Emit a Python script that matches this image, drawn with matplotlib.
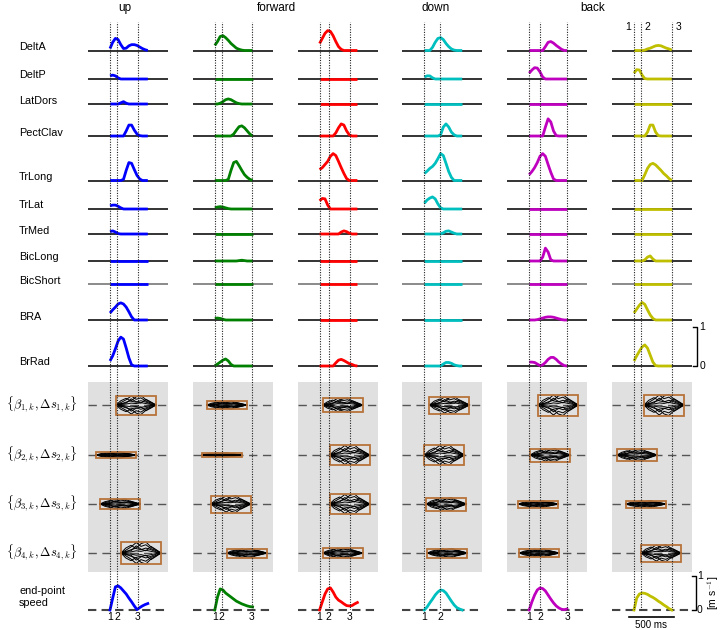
import numpy as np
import matplotlib
matplotlib.use("Agg")
import matplotlib.pyplot as plt
from matplotlib.patches import Rectangle
from matplotlib.transforms import blended_transform_factory

plt.rcParams['font.family'] = ['Liberation Sans', 'DejaVu Sans']
plt.rcParams['mathtext.fontset'] = 'cm'

# ---------------- data ----------------
directions = ['up', 'forward', 'down', 'back']
muscles = ['DeltA', 'DeltP', 'LatDors', 'PectClav', 'TrLong', 'TrLat',
           'TrMed', 'BicLong', 'BicShort', 'BRA', 'BrRad']
col_colors = [(0, 0, 1), (0, .5, 0), (1, 0, 0), (0, .75, .75), (.75, 0, .75), (.75, .75, 0)]

t_ms = [0, 30, 60, 90, 120, 150, 180, 210, 240, 270, 300, 330, 360, 390, 420]

# event times (ms from movement onset) for each column: 1, 2, 3
events = [[0, 78, 308], [0, 78, 411], [0, 100, 333], [0, 178], [0, 122, 422], [0, 78, 422]]

Z = [0] * 15
emg_up = {
    'DeltA':    [0.05, 0.21, 0.31, 0.28, 0.15, 0.05, 0.06, 0.12, 0.15, 0.15, 0.13, 0.09, 0.05, 0.02, 0.0],
    'DeltP':    [0.08, 0.10, 0.08, 0.03, 0, 0, 0, 0, 0, 0, 0, 0, 0, 0, 0],
    'LatDors':  [0, 0, 0, 0, 0.03, 0.06, 0.02, 0, 0, 0, 0, 0, 0, 0, 0],
    'PectClav': [0, 0, 0, 0, 0, 0, 0.13, 0.28, 0.28, 0.15, 0.05, 0.01, 0, 0, 0],
    'TrLong':   [0, 0, 0, 0, 0, 0.03, 0.26, 0.46, 0.44, 0.28, 0.13, 0.04, 0, 0, 0],
    'TrLat':    [0.08, 0.10, 0.10, 0.07, 0.03, 0, 0, 0, 0, 0, 0, 0, 0, 0, 0],
    'TrMed':    [0.06, 0.08, 0.05, 0.01, 0, 0, 0, 0, 0, 0, 0, 0, 0, 0, 0],
    'BicLong':  Z,
    'BicShort': Z,
    'BRA':      [0.18, 0.26, 0.33, 0.41, 0.44, 0.41, 0.33, 0.21, 0.08, 0, 0, 0, 0, 0, 0],
    'BrRad':    [0.13, 0.26, 0.44, 0.64, 0.74, 0.69, 0.46, 0.21, 0.03, 0, 0, 0, 0, 0, 0],
}
emg_forward = {
    'DeltA':    [0.13, 0.23, 0.36, 0.38, 0.33, 0.26, 0.18, 0.12, 0.06, 0.03, 0.01, 0, 0, 0, 0],
    'DeltP':    Z,
    'LatDors':  [0, 0, 0.02, 0.06, 0.11, 0.13, 0.11, 0.07, 0.03, 0.01, 0, 0, 0, 0, 0],
    'PectClav': [0, 0, 0, 0, 0, 0, 0, 0.05, 0.15, 0.24, 0.26, 0.21, 0.13, 0.05, 0],
    'TrLong':   [0, 0, 0, 0, 0, 0.03, 0.26, 0.46, 0.49, 0.38, 0.26, 0.15, 0.08, 0.03, 0],
    'TrLat':    [0.03, 0.05, 0.06, 0.05, 0.03, 0.01, 0, 0, 0, 0, 0, 0, 0, 0, 0],
    'TrMed':    Z,
    'BicLong':  [0, 0, 0, 0, 0, 0, 0, 0, 0, 0.01, 0.02, 0.01, 0, 0, 0],
    'BicShort': Z,
    'BRA':      [0.04, 0.05, 0.04, 0.02, 0, 0, 0, 0, 0, 0, 0, 0, 0, 0, 0],
    'BrRad':    [0.01, 0.05, 0.10, 0.15, 0.18, 0.13, 0.04, 0, 0, 0, 0, 0, 0, 0, 0],
}
emg_col3 = {
    'DeltA':    [0.18, 0.31, 0.44, 0.51, 0.49, 0.38, 0.23, 0.10, 0.03, 0, 0, 0, 0, 0, 0],
    'DeltP':    Z,
    'LatDors':  Z,
    'PectClav': [0, 0, 0, 0, 0, 0, 0.08, 0.21, 0.31, 0.28, 0.13, 0.03, 0, 0, 0],
    'TrLong':   [0.28, 0.33, 0.41, 0.49, 0.62, 0.69, 0.64, 0.49, 0.33, 0.18, 0.05, 0, 0, 0, 0],
    'TrLat':    [0.21, 0.27, 0.26, 0.10, 0, 0, 0, 0, 0, 0, 0, 0, 0, 0, 0],
    'TrMed':    [0, 0, 0, 0, 0, 0, 0, 0, 0.05, 0.08, 0.06, 0.02, 0, 0, 0],
    'BicLong':  Z,
    'BicShort': Z,
    'BRA':      Z,
    'BrRad':    [0, 0, 0, 0, 0, 0, 0.08, 0.15, 0.17, 0.14, 0.10, 0.06, 0.04, 0.01, 0],
}
emg_down = {
    'DeltA':    [0, 0, 0, 0.08, 0.21, 0.31, 0.33, 0.28, 0.18, 0.10, 0.04, 0.01, 0, 0, 0],
    'DeltP':    [0.05, 0.08, 0.08, 0.03, 0, 0, 0, 0, 0, 0, 0, 0, 0, 0, 0],
    'LatDors':  Z,
    'PectClav': [0, 0, 0, 0, 0, 0, 0.03, 0.23, 0.31, 0.23, 0.10, 0.03, 0, 0, 0],
    'TrLong':   [0.18, 0.24, 0.31, 0.36, 0.44, 0.56, 0.69, 0.64, 0.44, 0.23, 0.08, 0, 0, 0, 0],
    'TrLat':    [0.15, 0.23, 0.28, 0.31, 0.26, 0.13, 0.03, 0, 0, 0, 0, 0, 0, 0, 0],
    'TrMed':    [0, 0, 0, 0, 0, 0, 0, 0.03, 0.07, 0.08, 0.05, 0.02, 0, 0, 0],
    'BicLong':  Z,
    'BicShort': Z,
    'BRA':      Z,
    'BrRad':    [0, 0, 0, 0, 0, 0, 0, 0.05, 0.09, 0.09, 0.07, 0.03, 0.01, 0, 0],
}
emg_col5 = {
    'DeltA':    [0, 0, 0, 0, 0, 0, 0.10, 0.21, 0.23, 0.19, 0.13, 0.08, 0.03, 0, 0],
    'DeltP':    [0.15, 0.23, 0.29, 0.28, 0.18, 0.05, 0, 0, 0, 0, 0, 0, 0, 0, 0],
    'LatDors':  Z,
    'PectClav': [0, 0, 0, 0, 0, 0, 0.23, 0.44, 0.36, 0.13, 0.01, 0, 0, 0, 0],
    'TrLong':   [0.15, 0.23, 0.33, 0.46, 0.62, 0.69, 0.62, 0.41, 0.21, 0.04, 0, 0, 0, 0, 0],
    'TrLat':    Z,
    'TrMed':    Z,
    'BicLong':  [0, 0, 0, 0, 0, 0.10, 0.33, 0.23, 0.03, 0, 0, 0, 0, 0, 0],
    'BicShort': Z,
    'BRA':      [0, 0, 0, 0.01, 0.03, 0.05, 0.07, 0.08, 0.08, 0.07, 0.05, 0.03, 0.01, 0, 0],
    'BrRad':    [0.10, 0.10, 0.09, 0.05, 0.01, 0.03, 0.09, 0.17, 0.22, 0.22, 0.17, 0.10, 0.05, 0.01, 0],
}
emg_back = {
    'DeltA':    [0, 0, 0, 0, 0.01, 0.04, 0.06, 0.09, 0.12, 0.13, 0.12, 0.09, 0.06, 0.04, 0.01],
    'DeltP':    [0.15, 0.24, 0.23, 0.10, 0.01, 0, 0, 0, 0, 0, 0, 0, 0, 0, 0],
    'LatDors':  Z,
    'PectClav': [0, 0, 0, 0, 0, 0.10, 0.28, 0.28, 0.10, 0.01, 0, 0, 0, 0, 0],
    'TrLong':   [0, 0, 0, 0, 0.15, 0.31, 0.41, 0.44, 0.40, 0.33, 0.26, 0.18, 0.12, 0.05, 0],
    'TrLat':    Z,
    'TrMed':    Z,
    'BicLong':  [0, 0, 0, 0, 0.03, 0.10, 0.13, 0.05, 0, 0, 0, 0, 0, 0, 0],
    'BicShort': Z,
    'BRA':      [0.18, 0.28, 0.38, 0.45, 0.40, 0.26, 0.13, 0.04, 0, 0, 0, 0, 0, 0, 0],
    'BrRad':    [0.13, 0.26, 0.38, 0.49, 0.54, 0.46, 0.28, 0.10, 0.01, 0, 0, 0, 0, 0, 0],
}
emg = [emg_up, emg_forward, emg_col3, emg_down, emg_col5, emg_back]

# end-point speed (m/s)
speed = [
    [0, 0.35, 0.68, 0.71, 0.65, 0.56, 0.47, 0.35, 0.24, 0.12, 0.01, 0.07, 0.12, 0.16, 0.19],
    [0, 0.38, 0.62, 0.59, 0.50, 0.44, 0.38, 0.32, 0.26, 0.22, 0.18, 0.15, 0.12, 0.10, 0.09],
    [0, 0.24, 0.47, 0.62, 0.65, 0.53, 0.38, 0.29, 0.24, 0.18, 0.13, 0.12, 0.13, 0.18, 0.22],
    [0, 0.09, 0.21, 0.32, 0.44, 0.53, 0.59, 0.57, 0.50, 0.38, 0.26, 0.15, 0.07, 0.03, 0],
    [0, 0.24, 0.44, 0.59, 0.65, 0.63, 0.56, 0.44, 0.32, 0.21, 0.12, 0.06, 0.02, 0.01, 0.03],
    [0, 0.35, 0.47, 0.50, 0.49, 0.46, 0.41, 0.37, 0.32, 0.26, 0.21, 0.15, 0.10, 0.04, 0],
]

# synergy onset times (ms) and amplitudes (a.u.) per column, synergies 1..4
syn_onset = [[67, -156, -111, 122], [-89, -144, -44, 133], [33, 111, 111, 33],
             [56, 0, 22, 33], [100, 11, -122, -111], [111, -189, -89, 78]]
syn_amp = [[0.95, 0.3, 0.5, 1.1], [0.4, 0.22, 0.85, 0.45], [0.7, 1.0, 1.0, 0.5],
           [0.85, 1.0, 0.65, 0.45], [1.05, 0.65, 0.35, 0.4], [1.05, 0.6, 0.35, 0.85]]
syn_duration = 445
# normalised trial-by-trial waveform profiles drawn inside each box
prof_x = [0, 0.12, 0.25, 0.38, 0.5, 0.62, 0.75, 0.88, 1.0]
profiles = [
    [0, 0.25, 0.55, 0.95, 0.60, 0.75, 0.40, 0.20, 0],
    [0, 0.10, 0.30, 0.45, 0.85, 1.00, 0.55, 0.25, 0],
    [0, 0.45, 0.70, 0.40, 0.30, 0.45, 0.30, 0.10, 0],
    [0, 0.15, 0.20, 0.65, 0.35, 0.20, 0.60, 0.30, 0],
    [0, 0.05, 0.10, 0.20, 0.15, 0.25, 0.15, 0.05, 0],
]
syn_labels = [r'$\{\beta_{%d,k},\Delta s_{%d,k}\}$' % (i, i) for i in range(1, 5)]

# ---------------- layout (pixels) ----------------
W, H = 720, 630
fig = plt.figure(figsize=(W / 100, H / 100), dpi=100)


def rect(x0, y0, x1, y1):
    return [x0 / W, 1 - y1 / H, (x1 - x0) / W, (y1 - y0) / H]


MS_PER_PX = 500 / 45
col_left = [88 + 104.8 * i for i in range(6)]
col_w = 80
XLIM = (-22 * MS_PER_PX, 58 * MS_PER_PX)
base_y = [50.5, 79, 104, 136, 180.5, 209, 234, 261, 284.5, 320, 366]
EMG_PX = 39
SPD_PX = 34
SPD_BASE = 610
gray_top, gray_bot = 382, 572
syn_rows = [23, 73, 122, 171]
SYN_PX = 10
box_col = '#b8733a'
LW = 2.0

# titles
for name, xp in zip(directions, [125, 276, 436, 593]):
    fig.text(xp / W, 1 - 8 / H, name, ha='center', va='center', fontsize=8.5)

# muscle labels
for m, by in zip(muscles, base_y):
    fig.text(19 / W, 1 - (by - 3.5) / H, m, ha='left', va='center', fontsize=7.8)
fig.text(19 / W, 1 - 597 / H, 'end-point\nspeed', ha='left', va='center', fontsize=7.8, linespacing=1.3)
for lab, ry in zip(syn_labels, syn_rows):
    fig.text(77 / W, 1 - (gray_top + ry) / H, lab, ha='right', va='center', fontsize=9)


def clean(ax):
    for s in ax.spines.values():
        s.set_visible(False)
    ax.set_xticks([])
    ax.set_yticks([])


for c in range(6):
    L = col_left[c]
    R = L + col_w
    colr = col_colors[c]

    # EMG rows
    for m, by in zip(muscles, base_y):
        ax = fig.add_axes(rect(L, by - 36, R, by + 4))
        ax.set_xlim(XLIM)
        ax.set_ylim(-4 / EMG_PX, 36 / EMG_PX)
        ax.patch.set_alpha(0)
        clean(ax)
        ax.axhline(0, color='#777777' if m == 'BicShort' else '#111111', lw=1.2, zorder=1)
        vals = emg[c][m]
        ax.plot(t_ms[:len(vals)], vals, color=colr, lw=LW, zorder=3,
                solid_joinstyle='round', solid_capstyle='butt', clip_on=False)
        if c == 5 and m == 'BrRad':
            tr = blended_transform_factory(ax.transAxes, ax.transData)
            ax.plot([1.015, 1.065, 1.065, 1.015], [1, 1, 0, 0], transform=tr,
                    color='k', lw=1.0, clip_on=False)
            ax.text(1.13, 1, '1', transform=tr, ha='center', va='center', fontsize=7.5)
            ax.text(1.13, 0, '0', transform=tr, ha='center', va='center', fontsize=7.5)

    # synergy panel
    sx = fig.add_axes(rect(L, gray_top, R, gray_bot))
    sx.set_xlim(XLIM)
    sx.set_ylim(gray_bot - gray_top, 0)
    sx.set_facecolor('#e0e0e0')
    clean(sx)
    for k, ry in enumerate(syn_rows):
        sx.axhline(ry, color='#555555', lw=1.0, ls=(0, (6, 4)), zorder=1)
        t0 = syn_onset[c][k]
        A = syn_amp[c][k] * SYN_PX
        xs = [t0 + f * syn_duration for f in prof_x]
        for p in profiles:
            sx.plot(xs, [ry - A * v for v in p], color='k', lw=0.7, zorder=2)
            sx.plot(xs, [ry + A * v for v in p], color='k', lw=0.7, zorder=2)
        sx.add_patch(Rectangle((t0, ry - A), syn_duration, 2 * A, fill=False,
                               ec=box_col, lw=1.3, zorder=3))

    # speed panel
    ax = fig.add_axes(rect(L, SPD_BASE - 40, R, SPD_BASE + 4))
    ax.set_xlim(XLIM)
    ax.set_ylim(-4 / SPD_PX, 40 / SPD_PX)
    ax.patch.set_alpha(0)
    clean(ax)
    ax.axhline(0, color='#444444', lw=1.5, ls=(0, (4, 2.5)), zorder=1)
    ax.plot(t_ms[:len(speed[c])], speed[c], color=colr, lw=LW, zorder=3,
            solid_joinstyle='round', clip_on=False)
    if c < 5:
        for i, te in enumerate(events[c]):
            ax.text(te, -7.5 / SPD_PX, str(i + 1), ha='center', va='center', fontsize=7.5)
    else:
        ax.plot([-56, 444], [-7 / SPD_PX, -7 / SPD_PX], color='k', lw=1.2, clip_on=False)
        ax.text(194, -14.5 / SPD_PX, '500 ms', ha='center', va='center', fontsize=7)
        tr = blended_transform_factory(ax.transAxes, ax.transData)
        ax.plot([1.0, 1.05, 1.05, 1.0], [1, 1, 0, 0], transform=tr,
                color='k', lw=1.0, clip_on=False)
        ax.text(1.1, 1, '1', transform=tr, ha='center', va='center', fontsize=7.5)
        ax.text(1.1, 0, '0', transform=tr, ha='center', va='center', fontsize=7.5)
        ax.text(1.27, 0.5, r'[m s$^{-1}$]', transform=tr, ha='center', va='center',
                fontsize=7.5, rotation=90)

    # event lines overlay
    ov = fig.add_axes(rect(L, 22, R, SPD_BASE))
    ov.set_xlim(XLIM)
    ov.set_ylim(0, 1)
    ov.patch.set_alpha(0)
    clean(ov)
    for te in events[c]:
        ov.axvline(te, color='#222222', lw=0.8, ls=(0, (1, 1.3)), zorder=5)
    if c == 5:
        offs = [(-3, 'right'), (3, 'left'), (4, 'left')]
        for i, te in enumerate(events[c]):
            ov.annotate(str(i + 1), xy=(te, 1), xycoords=('data', 'axes fraction'),
                        xytext=(offs[i][0], -5), textcoords='offset pixels',
                        ha=offs[i][1], va='center', fontsize=7.5)

fig.savefig('out.png', dpi=100)
